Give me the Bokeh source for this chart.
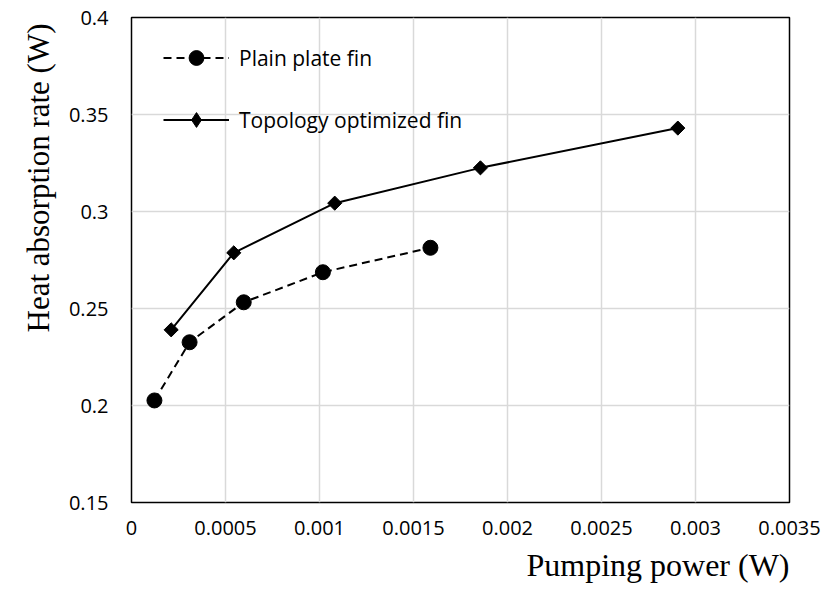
from bokeh.plotting import figure
from bokeh.models import Range1d, FixedTicker, Legend, LegendItem, Title
from bokeh.embed import file_html
from bokeh.resources import INLINE

# Data
plain_x = [0.000122, 0.000309, 0.000597, 0.001018, 0.001590]
plain_y = [0.2026, 0.2326, 0.2532, 0.2687, 0.2813]
topo_x = [0.000211, 0.000544, 0.001081, 0.001856, 0.002906]
topo_y = [0.2390, 0.2787, 0.3043, 0.3225, 0.3430]

x_ticks = [0, 0.0005, 0.001, 0.0015, 0.002, 0.0025, 0.003, 0.0035]
x_tick_labels = ["0", "0.0005", "0.001", "0.0015", "0.002", "0.0025", "0.003", "0.0035"]
y_ticks = [0.15, 0.2, 0.25, 0.3, 0.35, 0.4]
y_tick_labels = ["0.15", "0.2", "0.25", "0.3", "0.35", "0.4"]

series_names = ["Plain plate fin", "Topology optimized fin"]
x_title = "Pumping power (W)"
y_title = "Heat absorption rate (W)"

p = figure(width=833, height=590, output_backend="svg", toolbar_location=None,
           x_range=Range1d(0, 0.0035), y_range=Range1d(0.15, 0.4),
           min_border_left=131, min_border_right=44, min_border_top=17,
           min_border_bottom=88)

p.background_fill_color = "white"
p.border_fill_color = "white"
p.outline_line_color = "black"
p.outline_line_width = 1.5

for ax in (p.xaxis[0], p.yaxis[0]):
    ax.axis_line_color = None
    ax.major_tick_line_color = None
    ax.minor_tick_line_color = None
    ax.major_tick_out = 0
    ax.major_tick_in = 0
    ax.major_label_text_font = "Open Sans"
    ax.major_label_text_font_size = "20px"
    ax.major_label_text_color = "black"

p.xaxis.ticker = FixedTicker(ticks=x_ticks)
p.yaxis.ticker = FixedTicker(ticks=y_ticks)
p.xaxis.major_label_overrides = dict(zip(x_ticks, x_tick_labels))
p.yaxis.major_label_overrides = dict(zip(y_ticks, y_tick_labels))
p.xaxis.major_label_standoff = 18
p.yaxis.major_label_standoff = 23

xt = Title(text=x_title, align="right", text_font="Liberation Serif",
           text_font_style="normal", text_font_size="32px", text_color="black",
           standoff=15, offset=0)
yt = Title(text=y_title, align="right", text_font="Liberation Serif",
           text_font_style="normal", text_font_size="31px", text_color="black",
           standoff=19, offset=6)
p.add_layout(xt, "below")
p.add_layout(yt, "left")

p.xgrid.grid_line_color = "#d9d9d9"
p.ygrid.grid_line_color = "#d9d9d9"
p.xgrid.grid_line_width = 1.5
p.ygrid.grid_line_width = 1.5

l1 = p.line(plain_x, plain_y, line_color="black", line_width=2, line_dash="8 5")
m1 = p.scatter(plain_x, plain_y, marker="circle", size=15, fill_color="black", line_color="black")
l2 = p.line(topo_x, topo_y, line_color="black", line_width=2)
# small diamonds hidden under the rotated squares; they supply the legend swatch
m2_key = p.scatter(topo_x, topo_y, marker="diamond", size=8, fill_color="black", line_color="black")
m2 = p.scatter(topo_x, topo_y, marker="square", angle=0.785398, size=10,
               fill_color="black", line_color="black")

legend = Legend(items=[LegendItem(label=series_names[0], renderers=[l1, m1]),
                       LegendItem(label=series_names[1], renderers=[l2, m2_key])],
                location=(32, 364))
legend.border_line_color = None
legend.background_fill_alpha = 0
legend.label_text_font = "Open Sans"
legend.label_text_font_size = "21px"
legend.label_text_color = "black"
legend.glyph_width = 66
legend.glyph_height = 37
legend.label_height = 20
legend.label_standoff = 10
legend.spacing = 25
legend.margin = 0
legend.padding = 0
p.add_layout(legend)

open("out.html", "w").write(file_html(p, INLINE))
